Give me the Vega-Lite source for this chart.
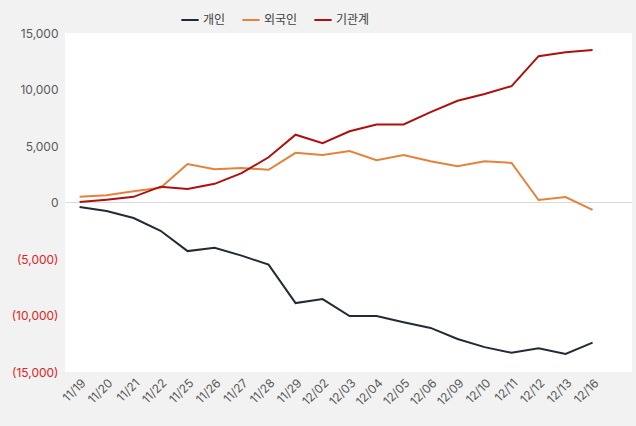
{
  "$schema": "https://vega.github.io/schema/vega-lite/v6.json",
  "width": 567,
  "height": 339,
  "autosize": {"type": "none"},
  "padding": {"left": 65, "top": 33, "right": 4, "bottom": 54},
  "background": "#f2f2f2",
  "config": {
    "view": {"fill": "white", "stroke": null},
    "font": "Inter"
  },
  "datasets": {
    "rows": [
      {"date": "11/19", "series": "개인", "value": -400},
      {"date": "11/20", "series": "개인", "value": -750},
      {"date": "11/21", "series": "개인", "value": -1370},
      {"date": "11/22", "series": "개인", "value": -2500},
      {"date": "11/25", "series": "개인", "value": -4300},
      {"date": "11/26", "series": "개인", "value": -4000},
      {"date": "11/27", "series": "개인", "value": -4700},
      {"date": "11/28", "series": "개인", "value": -5500},
      {"date": "11/29", "series": "개인", "value": -8900},
      {"date": "12/02", "series": "개인", "value": -8550},
      {"date": "12/03", "series": "개인", "value": -10050},
      {"date": "12/04", "series": "개인", "value": -10050},
      {"date": "12/05", "series": "개인", "value": -10600},
      {"date": "12/06", "series": "개인", "value": -11100},
      {"date": "12/09", "series": "개인", "value": -12080},
      {"date": "12/10", "series": "개인", "value": -12800},
      {"date": "12/11", "series": "개인", "value": -13300},
      {"date": "12/12", "series": "개인", "value": -12900},
      {"date": "12/13", "series": "개인", "value": -13400},
      {"date": "12/16", "series": "개인", "value": -12400},
      {"date": "11/19", "series": "외국인", "value": 500},
      {"date": "11/20", "series": "외국인", "value": 650},
      {"date": "11/21", "series": "외국인", "value": 1000},
      {"date": "11/22", "series": "외국인", "value": 1300},
      {"date": "11/25", "series": "외국인", "value": 3400},
      {"date": "11/26", "series": "외국인", "value": 2950},
      {"date": "11/27", "series": "외국인", "value": 3050},
      {"date": "11/28", "series": "외국인", "value": 2900},
      {"date": "11/29", "series": "외국인", "value": 4400},
      {"date": "12/02", "series": "외국인", "value": 4200},
      {"date": "12/03", "series": "외국인", "value": 4550},
      {"date": "12/04", "series": "외국인", "value": 3750},
      {"date": "12/05", "series": "외국인", "value": 4200},
      {"date": "12/06", "series": "외국인", "value": 3650},
      {"date": "12/09", "series": "외국인", "value": 3200},
      {"date": "12/10", "series": "외국인", "value": 3650},
      {"date": "12/11", "series": "외국인", "value": 3500},
      {"date": "12/12", "series": "외국인", "value": 220},
      {"date": "12/13", "series": "외국인", "value": 480},
      {"date": "12/16", "series": "외국인", "value": -650},
      {"date": "11/19", "series": "기관계", "value": 50},
      {"date": "11/20", "series": "기관계", "value": 250},
      {"date": "11/21", "series": "기관계", "value": 500},
      {"date": "11/22", "series": "기관계", "value": 1400},
      {"date": "11/25", "series": "기관계", "value": 1200},
      {"date": "11/26", "series": "기관계", "value": 1650},
      {"date": "11/27", "series": "기관계", "value": 2600},
      {"date": "11/28", "series": "기관계", "value": 4000},
      {"date": "11/29", "series": "기관계", "value": 6000},
      {"date": "12/02", "series": "기관계", "value": 5250},
      {"date": "12/03", "series": "기관계", "value": 6300},
      {"date": "12/04", "series": "기관계", "value": 6900},
      {"date": "12/05", "series": "기관계", "value": 6900},
      {"date": "12/06", "series": "기관계", "value": 8000},
      {"date": "12/09", "series": "기관계", "value": 9000},
      {"date": "12/10", "series": "기관계", "value": 9600},
      {"date": "12/11", "series": "기관계", "value": 10300},
      {"date": "12/12", "series": "기관계", "value": 12950},
      {"date": "12/13", "series": "기관계", "value": 13300},
      {"date": "12/16", "series": "기관계", "value": 13500}
    ]
  },
  "data": {"name": "rows"},
  "layer": [
    {
      "mark": {"type": "rule", "color": "#d9d9d9", "strokeWidth": 1},
      "data": {"values": [{"zero": 0}]},
      "encoding": {"y": {"field": "zero", "type": "quantitative", "scale": {"domain": [-15000, 15000]}}}
    },
    {
      "mark": {"type": "line", "strokeWidth": 2},
      "encoding": {
        "x": {
          "field": "date",
          "type": "ordinal",
          "scale": {"type": "point", "padding": 1.04, "align": 0.27},
          "axis": {
            "title": null,
            "labelAngle": -45,
            "labelColor": "#595959",
            "labelFontSize": 12,
            "labelPadding": 5,
            "domain": false,
            "ticks": false
          }
        },
        "y": {
          "field": "value",
          "type": "quantitative",
          "scale": {"domain": [-15000, 15000], "nice": false, "zero": false},
          "axis": {
            "title": null,
            "values": [-15000, -10000, -5000, 0, 5000, 10000, 15000],
            "grid": false,
            "domain": false,
            "ticks": false,
            "labelFontSize": 12,
            "labelPadding": 7,
            "labelExpr": "datum.value < 0 ? '(' + format(-datum.value, ',') + ')' : format(datum.value, ',')",
            "labelColor": {"condition": {"test": "datum.value < 0", "value": "#e02424"}, "value": "#595959"}
          }
        },
        "color": {
          "field": "series",
          "type": "nominal",
          "scale": {"domain": ["개인", "외국인", "기관계"], "range": ["#222a35", "#e5823a", "#b00f0f"]},
          "legend": {
            "title": null,
            "orient": "none",
            "direction": "horizontal",
            "legendX": 115,
            "legendY": -23,
            "symbolType": "stroke",
            "symbolStrokeWidth": 2,
            "symbolSize": 300,
            "labelFont": "Noto Sans CJK KR",
            "labelFontSize": 12,
            "labelColor": "#404040",
            "columnPadding": 12,
            "labelOffset": 3
          }
        }
      }
    }
  ]
}
